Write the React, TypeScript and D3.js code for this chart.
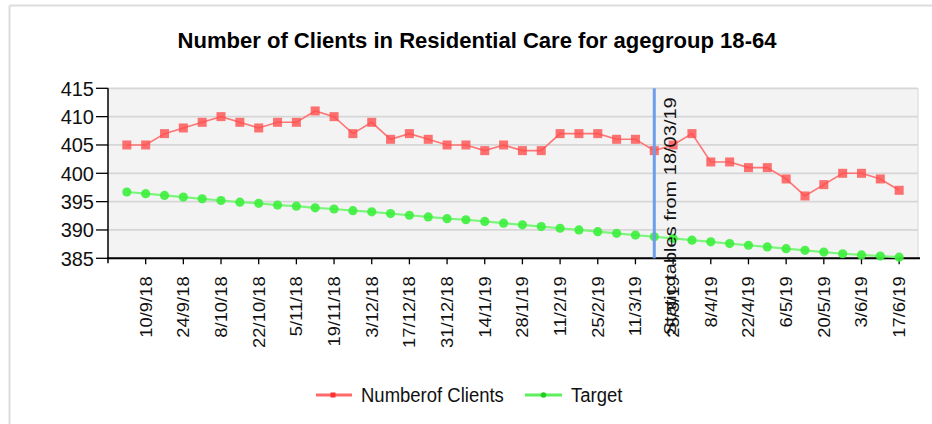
import React from "react";
import * as d3 from "d3";

const W = 932;
const H = 424;

const title = "Number of Clients in Residential Care for agegroup 18-64";

const dates: string[] = [
  "3/9/18", "10/9/18", "17/9/18", "24/9/18", "1/10/18", "8/10/18", "15/10/18", "22/10/18",
  "29/10/18", "5/11/18", "12/11/18", "19/11/18", "26/11/18", "3/12/18", "10/12/18", "17/12/18",
  "24/12/18", "31/12/18", "7/1/19", "14/1/19", "21/1/19", "28/1/19", "4/2/19", "11/2/19",
  "18/2/19", "25/2/19", "4/3/19", "11/3/19", "18/3/19", "25/3/19", "1/4/19", "8/4/19",
  "15/4/19", "22/4/19", "29/4/19", "6/5/19", "13/5/19", "20/5/19", "27/5/19", "3/6/19",
  "10/6/19", "17/6/19",
];

const clients: number[] = [
  405, 405, 407, 408, 409, 410, 409, 408, 409, 409, 411, 410, 407, 409, 406, 407,
  406, 405, 405, 404, 405, 404, 404, 407, 407, 407, 406, 406, 404, 405, 407, 402,
  402, 401, 401, 399, 396, 398, 400, 400, 399, 397,
];

const target: number[] = [
  396.7, 396.4, 396.1, 395.8, 395.5, 395.2, 394.9, 394.7, 394.4, 394.2, 393.9, 393.7,
  393.4, 393.2, 392.9, 392.6, 392.3, 392.0, 391.8, 391.5, 391.2, 390.9, 390.6, 390.3,
  390.0, 389.7, 389.4, 389.1, 388.8, 388.5, 388.2, 387.9, 387.6, 387.3, 387.0, 386.7,
  386.4, 386.1, 385.8, 385.6, 385.4, 385.2,
];

const yTicks: number[] = [385, 390, 395, 400, 405, 410, 415];

const markerIndex = 28;
const markerLabel = "Static tables from 18/03/19";

const legendNames: string[] = ["Numberof Clients", "Target"];

const FONT = "Arial, 'Liberation Sans', sans-serif";

export default function App() {
  const left = 108;
  const right = 918;
  const top = 88.3;
  const bottom = 258.3;

  const x = d3.scaleLinear().domain([-1, dates.length]).range([left, right]);
  const y = d3.scaleLinear().domain([385, 415]).range([bottom, top]);

  const line = d3
    .line<number>()
    .x((_, i) => x(i))
    .y((d) => y(d));

  const tickIdx = dates.map((_, i) => i).filter((i) => i % 2 === 1);
  const mx = x(markerIndex);

  return (
    <svg
      width={W}
      height={H}
      style={{ position: "fixed", left: 0, top: 0, background: "#fff" }}
      fontFamily={FONT}
    >
      {/* frame */}
      <line x1={9.5} y1={5.5} x2={W} y2={5.5} stroke="#dcdcdc" strokeWidth={2} />
      <line x1={9.5} y1={5.5} x2={9.5} y2={H} stroke="#dcdcdc" strokeWidth={2} />

      {/* title */}
      <text transform="translate(477,48) scale(1,1.18)" textAnchor="middle" fontWeight="bold" fontSize={19}
        fill="#000" textLength={599} lengthAdjust="spacingAndGlyphs">
        {title}
      </text>

      {/* plot background */}
      <rect x={left} y={top} width={right - left} height={bottom - top} fill="#f3f3f3" />
      <line x1={right} y1={top} x2={right} y2={bottom} stroke="#e2e2e2" strokeWidth={1.5} />

      {/* gridlines */}
      {yTicks.map((t) => (
        <line key={t} x1={left} x2={right} y1={y(t)} y2={y(t)} stroke="#d6d6d6" strokeWidth={1.8} />
      ))}

      {/* y axis */}
      <line x1={left} y1={top} x2={left} y2={bottom + 5} stroke="#000" strokeWidth={1.5} />
      {yTicks.map((t) => (
        <g key={t}>
          <line x1={left - 12} x2={left} y1={y(t)} y2={y(t)} stroke="#000" strokeWidth={1.3} />
          <text x={left - 14} y={y(t)} dy="0.36em" textAnchor="end" fontSize={20} fill="#111">
            {t}
          </text>
        </g>
      ))}

      {/* x axis */}
      <line x1={left - 1} y1={bottom} x2={right + 2} y2={bottom} stroke="#000" strokeWidth={2} />
      {tickIdx.map((i) => (
        <g key={i}>
          <line x1={x(i)} x2={x(i)} y1={bottom} y2={bottom + 6} stroke="#000" strokeWidth={1.3} />
          <text
            transform={`translate(${x(i)},${bottom + 18}) rotate(-90) scale(1.13,1)`}
            dy="0.36em"
            textAnchor="end"
            fontSize={16.3}
            fill="#111"
          >
            {dates[i]}
          </text>
        </g>
      ))}

      {/* target series */}
      <path d={line(target) || ""} fill="none" stroke="#7cf57c" strokeWidth={2.2} />
      {target.map((v, i) => (
        <circle key={i} cx={x(i)} cy={y(v)} r={4.6} fill="#3cf03c" fillOpacity={0.9} />
      ))}

      {/* clients series */}
      <path d={line(clients) || ""} fill="none" stroke="#ff7474" strokeWidth={1.6} />
      {clients.map((v, i) => (
        <rect key={i} x={x(i) - 4.5} y={y(v) - 4.5} width={9} height={9} fill="#ff4f4f" fillOpacity={0.8} />
      ))}

      {/* marker line */}
      <line x1={mx} x2={mx} y1={top} y2={bottom} stroke="#6d9eeb" strokeWidth={3} />
      <text
        transform={`translate(${mx + 22},${bottom + 77}) rotate(-90)`}
        textAnchor="start"
        fontSize={17}
        fill="#111"
        textLength={238}
        lengthAdjust="spacingAndGlyphs"
      >
        {markerLabel}
      </text>

      {/* legend */}
      <g>
        <line x1={316} x2={352} y1={395} y2={395} stroke="#ff6a6a" strokeWidth={3} />
        <rect x={330.5} y={392.5} width={5} height={5} fill="#ff3030" />
        <text transform="translate(361,395) scale(1,1.1)" dy="0.36em" fontSize={18.5} fill="#111">{legendNames[0]}</text>
        <line x1={525} x2={562} y1={395} y2={395} stroke="#5cf05c" strokeWidth={3} />
        <circle cx={543.5} cy={395} r={2.8} fill="#20d020" />
        <text transform="translate(571,395) scale(1,1.1)" dy="0.36em" fontSize={18.5} fill="#111">{legendNames[1]}</text>
      </g>
    </svg>
  );
}
